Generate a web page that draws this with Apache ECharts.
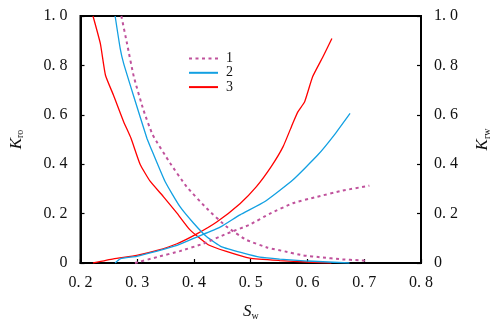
<!DOCTYPE html>
<html><head><meta charset="utf-8">
<script src="https://cdn.jsdelivr.net/npm/echarts@6/dist/echarts.min.js"></script>
<style>html,body{margin:0;padding:0;background:#fff}#c{width:500px;height:328px}</style>
</head><body><div id="c"></div>
<script>
// Tick labels
const xTicks = ['0. 2','0. 3','0. 4','0. 5','0. 6','0. 7','0. 8'];
const yTicks = ['0','0. 2','0. 4','0. 6','0. 8','1. 0'];
const legendNames = ['1','2','3'];

// Kro curves
const kro1Sw = [0.272,0.282,0.294,0.311,0.327,0.358,0.387,0.422,0.457,0.492,0.530,0.560,0.592,0.624,0.659,0.691,0.705];
const kro1   = [1.0,0.888,0.754,0.619,0.52,0.404,0.309,0.222,0.148,0.094,0.062,0.047,0.031,0.023,0.015,0.011,0.009];
const kro2Sw = [0.261,0.270,0.276,0.294,0.317,0.323,0.349,0.375,0.399,0.422,0.449,0.487,0.516,0.551,0.600,0.674];
const kro2   = [1.0,0.868,0.808,0.673,0.505,0.471,0.33,0.229,0.162,0.107,0.065,0.04,0.024,0.016,0.008,0.0];
const kro3Sw = [0.222,0.235,0.244,0.258,0.276,0.289,0.305,0.323,0.346,0.370,0.393,0.425,0.457,0.498,0.551,0.600,0.642];
const kro3   = [1.0,0.888,0.76,0.68,0.572,0.505,0.40,0.33,0.269,0.202,0.134,0.074,0.047,0.02,0.01,0.004,0.0];

// Krw curves
const krw1Sw = [0.296,0.335,0.375,0.416,0.457,0.498,0.533,0.574,0.615,0.662,0.709];
const krw1   = [0,0.024,0.048,0.078,0.118,0.155,0.199,0.242,0.267,0.293,0.313];
const krw2Sw = [0.261,0.270,0.299,0.335,0.370,0.405,0.446,0.481,0.525,0.574,0.618,0.647,0.675];
const krw2   = [0,0.017,0.027,0.048,0.071,0.105,0.145,0.195,0.249,0.336,0.437,0.518,0.606];
const krw3Sw = [0.222,0.258,0.299,0.335,0.370,0.405,0.440,0.481,0.510,0.536,0.557,0.574,0.583,0.595,0.609,0.627,0.643];
const krw3   = [0,0.017,0.031,0.051,0.078,0.118,0.166,0.240,0.309,0.39,0.471,0.565,0.612,0.653,0.754,0.834,0.909];

const zip = (a, b) => a.map((v, i) => [v, b[i]]);
const FONT = 'Liberation Serif';
const colors = ['#C0529C', '#12A0E2', '#FF0000'];
const lineStyles = [
  {color: colors[0], width: 2, type: [3, 3.5]},
  {color: colors[1], width: 1.3, type: 'solid'},
  {color: colors[2], width: 1.3, type: 'solid'}
];
const curves = [
  [kro1Sw, kro1, krw1Sw, krw1],
  [kro2Sw, kro2, krw2Sw, krw2],
  [kro3Sw, kro3, krw3Sw, krw3]
];
const series = [];
curves.forEach((c, i) => {
  series.push({name: legendNames[i], type: 'line', data: zip(c[0], c[1]), yAxisIndex: 0, smooth: 0.15,
    showSymbol: false, symbol: 'none', lineStyle: lineStyles[i], itemStyle: {color: colors[i]}, animation: false, z: 3 - i});
  series.push({name: legendNames[i], type: 'line', data: zip(c[2], c[3]), yAxisIndex: 1, smooth: 0.15,
    showSymbol: false, symbol: 'none', lineStyle: lineStyles[i], itemStyle: {color: colors[i]}, animation: false, z: 3 - i});
});

const xFmt = v => xTicks[Math.round((v - 0.2) * 10)] ?? '';
const yFmt = v => yTicks[Math.round(v * 5)] ?? '';
const labelStyle = {fontFamily: FONT, fontSize: 16, color: '#111'};
const nameRich = {
  i: {fontFamily: FONT, fontStyle: 'italic', fontSize: 17, color: '#111'},
  s: {fontFamily: FONT, fontSize: 10, color: '#111', padding: [8, 0, 0, 0]}
};

const chart = echarts.init(document.getElementById('c'), null, {renderer: 'canvas'});
chart.setOption({
  animation: false,
  backgroundColor: '#fff',
  grid: {left: 80, right: 78, top: 16, bottom: 65, containLabel: false, show: true, borderColor: '#000', borderWidth: 2},
  legend: {
    data: legendNames, orient: 'vertical', left: 188, top: 51.5, padding: 0,
    itemWidth: 29, itemHeight: 10, itemGap: 0.3,
    itemStyle: {opacity: 0},
    textStyle: {fontFamily: FONT, fontSize: 14, lineHeight: 12, color: '#111', padding: [0, 0, 0, 3]},
    selectedMode: false
  },
  xAxis: {
    type: 'value', min: 0.2, max: 0.8, interval: 0.1,
    name: '{i|S}{s|w}', nameLocation: 'middle', nameGap: 40,
    nameTextStyle: {rich: nameRich},
    axisLine: {show: true, lineStyle: {color: '#000', width: 2}},
    axisTick: {show: true, inside: true, length: 4, lineStyle: {color: '#000', width: 1.2}},
    axisLabel: Object.assign({formatter: xFmt, margin: 12}, labelStyle),
    splitLine: {show: false}
  },
  yAxis: [{
    type: 'value', min: 0, max: 1, interval: 0.2, position: 'left',
    name: '{i|K}{s|ro}', nameLocation: 'middle', nameGap: 55, nameRotate: 90,
    nameTextStyle: {rich: nameRich},
    axisLine: {show: true, lineStyle: {color: '#000', width: 2}},
    axisTick: {show: true, inside: true, length: 4, lineStyle: {color: '#000', width: 1.2}},
    axisLabel: Object.assign({formatter: yFmt, margin: 13}, labelStyle),
    splitLine: {show: false}
  }, {
    type: 'value', min: 0, max: 1, interval: 0.2, position: 'right',
    name: '{i|K}{s|rw}', nameLocation: 'middle', nameGap: 53, nameRotate: 90,
    nameTextStyle: {rich: nameRich},
    axisLine: {show: true, lineStyle: {color: '#000', width: 2}},
    axisTick: {show: true, inside: true, length: 4, lineStyle: {color: '#000', width: 1.2}},
    axisLabel: Object.assign({formatter: yFmt, margin: 13}, labelStyle),
    splitLine: {show: false}
  }],
  series: series
});
</script></body></html>
